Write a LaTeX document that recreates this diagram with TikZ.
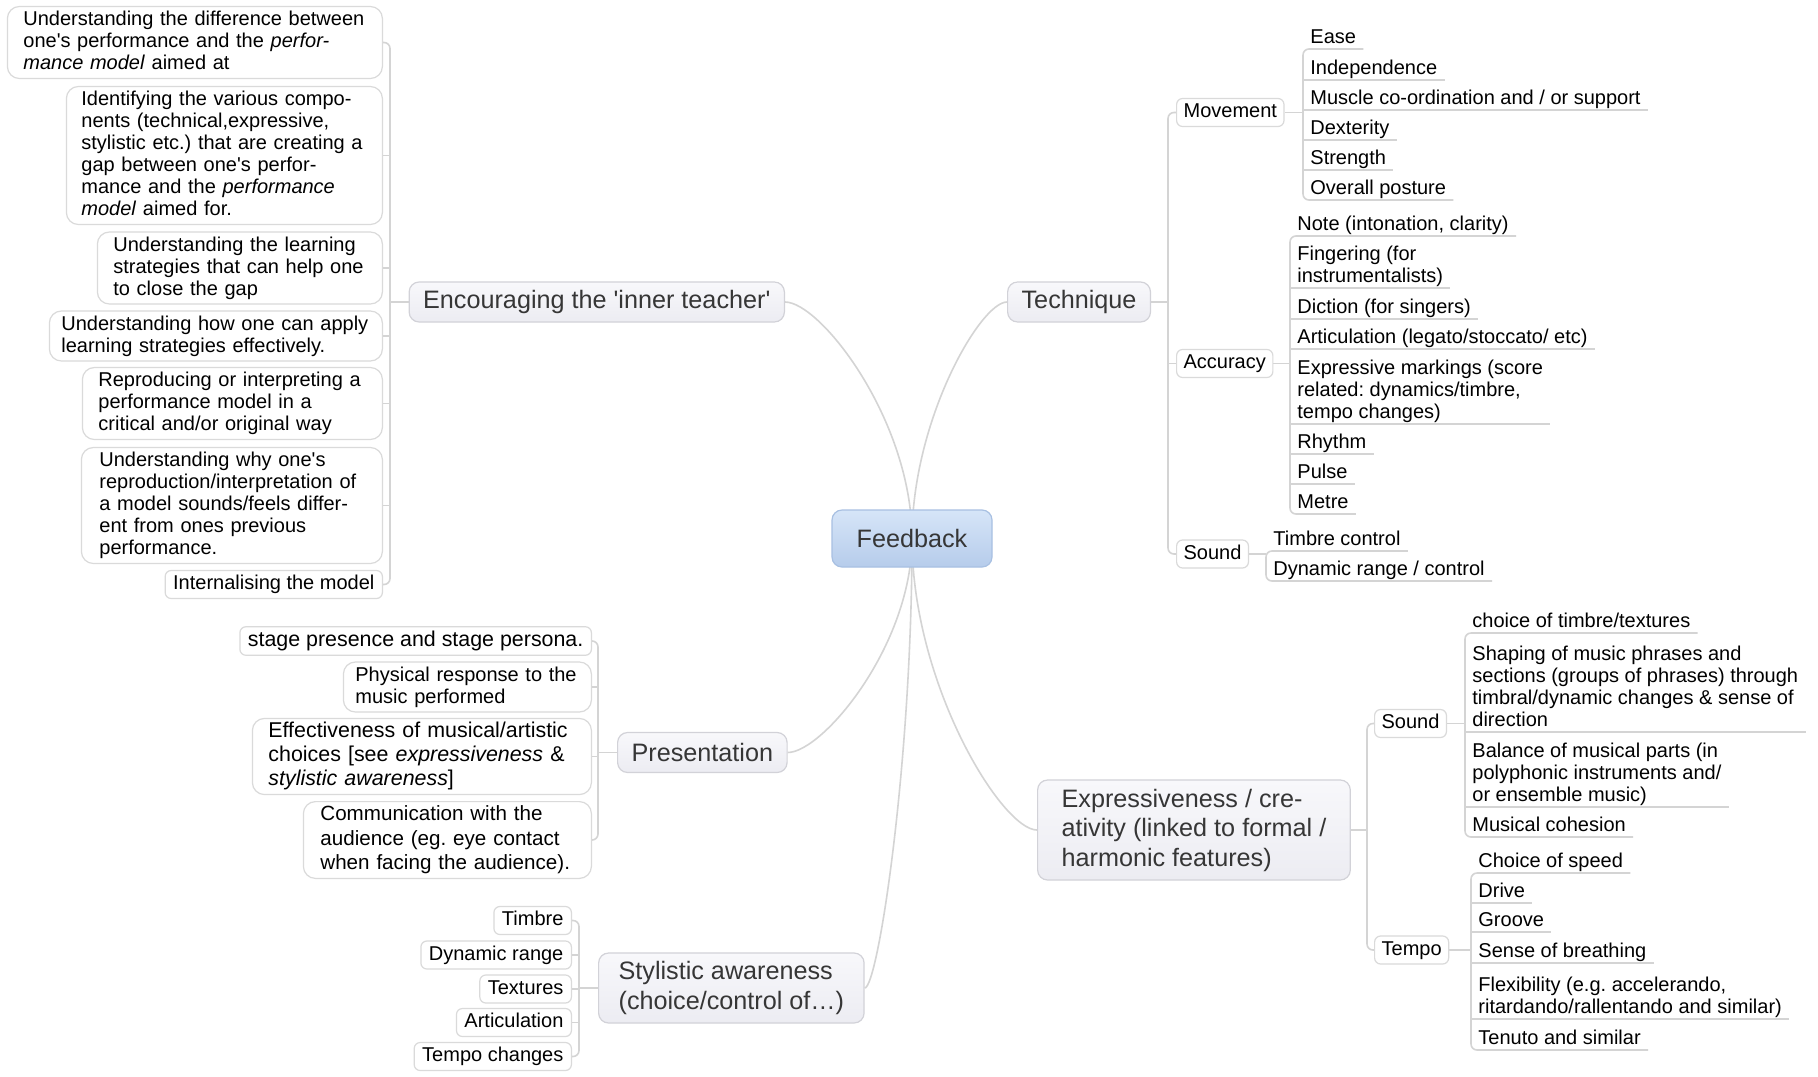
\documentclass[tikz,border=0pt]{standalone}
\usepackage{fontspec}
\setmainfont{Liberation Sans}
\usetikzlibrary{calc}
\usetikzlibrary{positioning}
\usetikzlibrary{backgrounds}
\definecolor{linkgray}{HTML}{D4D4D4}
\definecolor{boxline}{HTML}{DADADA}
\definecolor{topictop}{HTML}{F8F8FB}
\definecolor{topicbottom}{HTML}{ECECF2}
\definecolor{topicline}{HTML}{D2D2D8}
\definecolor{roottop}{HTML}{D6E5F8}
\definecolor{rootbottom}{HTML}{B6CCEB}
\definecolor{rootline}{HTML}{A8C0E2}
\definecolor{topictext}{HTML}{363636}
\tikzstyle{link} = [draw=linkgray, line width=0.8pt]
\tikzstyle{rootnode} = [draw=rootline, line width=0.6pt, rounded corners=5pt, top color=roottop, bottom color=rootbottom, text=topictext, font=\fontsize{12.6}{14.75}\selectfont, minimum width=80pt, minimum height=28.5pt]
\tikzstyle{topicnode} = [draw=topicline, line width=0.6pt, rounded corners=5pt, top color=topictop, bottom color=topicbottom, text=topictext, font=\fontsize{12.6}{14.75}\selectfont, align=left, inner xsep=7pt, minimum height=20pt]
\tikzstyle{leafnode} = [draw=boxline, line width=0.6pt, fill=white, rounded corners=6pt, font=\fontsize{10}{11}\selectfont, align=left, inner xsep=8pt, inner ysep=2pt, execute at begin node={\rule{0pt}{7.5pt}}, execute at end node={\rule[-2.5pt]{0pt}{2.5pt}}, anchor=east]
\tikzstyle{shortleaf} = [leafnode, inner xsep=4pt, rounded corners=3pt]
\tikzstyle{bigleaf} = [font=\fontsize{10.7}{11.9}\selectfont]
\tikzstyle{subnode} = [draw=boxline, line width=0.6pt, fill=white, rounded corners=3pt, font=\fontsize{10}{11}\selectfont, inner xsep=3.5pt, inner ysep=2pt, text height=7.5pt, text depth=2.5pt, anchor=west]
\tikzstyle{linenode} = [font=\fontsize{10}{11}\selectfont, align=left, inner xsep=3.5pt, inner ysep=0pt, anchor=south west, execute at end node={\rule[-2.6pt]{0pt}{2.6pt}}]

\begin{document}
\frenchspacing
\begin{tikzpicture}[x=0.5pt, y=-0.5pt]
  \useasboundingbox (0,0) rectangle (1818,1076);

  % centre and main topics
  \node[rootnode] (fb) at (912,538.5) {Feedback};
  \node[topicnode, anchor=east] (enc) at (785,302) {Encouraging the \textquotesingle inner teacher\textquotesingle};
  \node[topicnode, anchor=west] (tech) at (1007,302) {Technique};
  \node[topicnode, anchor=west] (pres) at (617,752.5) {Presentation};
  \node[topicnode, anchor=west, inner xsep=10pt, minimum height=35pt] (styl) at (598,988) {Stylistic awareness\\(choice/control of…)};
  \node[topicnode, anchor=west, inner xsep=12pt, minimum height=50pt] (expr) at (1037,830) {Expressiveness / cre-\\ativity (linked to formal /\\harmonic features)};

  % inner teacher
  \node[leafnode, text width=171.5pt] (a1) at (383,42.5) {Understanding the difference between\\one\textquotesingle s performance and the \textit{perfor-}\\\textit{mance model} aimed at};
  \node[leafnode, inner xsep=7.5pt, text width=143pt] (a2) at (383,155.5) {Identifying the various compo-\\nents (technical,expressive,\\stylistic etc.) that are creating a\\gap between one\textquotesingle s perfor-\\mance and the \textit{performance}\\\textit{model} aimed for.};
  \node[leafnode, text width=126.5pt] (a3) at (383,268) {Understanding the learning\\strategies that can help one\\to close the gap};
  \node[leafnode, inner xsep=6pt, text width=154.5pt] (a4) at (383,336) {Understanding how one can apply\\learning strategies effectively.};
  \node[leafnode, text width=134pt] (a5) at (383,403.5) {Reproducing or interpreting a\\performance model in a\\critical and/or original way};
  \node[leafnode, inner xsep=9pt, text width=132.5pt] (a6) at (383,505.5) {Understanding why one\textquotesingle s\\reproduction/interpretation of\\a model sounds/feels differ-\\ent from ones previous\\performance.};
  \node[shortleaf] (a7) at (383,584.5) {Internalising the model};

  % presentation
  \node[shortleaf, bigleaf] (p1) at (592,641) {stage presence and stage persona.};
  \node[leafnode, inner xsep=6pt, text width=112pt] (p2) at (592,687) {Physical response to the\\music performed};
  \node[leafnode, bigleaf, text width=153.5pt] (p3) at (592,756.5) {Effectiveness of musical/artistic\\choices [see \textit{expressiveness} \&\\\textit{stylistic awareness}]};
  \node[leafnode, font=\fontsize{10.3}{12.2}\selectfont, inner xsep=8.5pt, text width=127pt] (p4) at (592,840) {Communication with the\\audience (eg. eye contact\\when facing the audience).};

  % stylistic awareness
  \node[shortleaf] (s1) at (572,920.5) {Timbre};
  \node[shortleaf] (s2) at (572,955) {Dynamic range};
  \node[shortleaf] (s3) at (572,989) {Textures};
  \node[shortleaf] (s4) at (572,1022.5) {Articulation};
  \node[shortleaf] (s5) at (572,1056.5) {Tempo changes};

  % technique
  \node[subnode] (move) at (1176,112.5) {Movement};
  \node[subnode] (acc) at (1176,363.5) {Accuracy};
  \node[subnode] (tsound) at (1176,554) {Sound};
  \node[linenode] (ease) at (1303,49) {Ease};
  \node[linenode] (indep) at (1303,80) {Independence};
  \node[linenode] (muscle) at (1303,110) {Muscle co-ordination and / or support};
  \node[linenode] (dext) at (1303,140) {Dexterity};
  \node[linenode] (strength) at (1303,170) {Strength};
  \node[linenode] (posture) at (1303,200) {Overall posture};
  \node[linenode] (note) at (1290,236) {Note (intonation, clarity)};
  \node[linenode] (finger) at (1290,288) {Fingering (for\\instrumentalists)};
  \node[linenode] (diction) at (1290,319) {Diction (for singers)};
  \node[linenode] (artic) at (1290,349) {Articulation (legato/stoccato/ etc)};
  \node[linenode] (marks) at (1290,424) {Expressive markings (score\\related: dynamics/timbre,\\tempo changes)};
  \node[linenode] (rhythm) at (1290,454) {Rhythm};
  \node[linenode] (pulse) at (1290,484) {Pulse};
  \node[linenode] (metre) at (1290,514) {Metre};
  \node[linenode] (timbre) at (1266,551) {Timbre control};
  \node[linenode] (dynctl) at (1266,581) {Dynamic range / control};

  % expressiveness
  \node[subnode] (esound) at (1374,723.5) {Sound};
  \node[subnode] (tempo) at (1374,950) {Tempo};
  \node[linenode] (choice) at (1465,633) {choice of timbre/textures};
  \node[linenode] (shaping) at (1465,732) {Shaping of music phrases and\\sections (groups of phrases) through\\timbral/dynamic changes \& sense of\\direction};
  \node[linenode] (balance) at (1465,807) {Balance of musical parts (in\\polyphonic instruments and/\\or ensemble music)};
  \node[linenode] (cohesion) at (1465,837) {Musical cohesion};
  \node[linenode] (speed) at (1471,873) {Choice of speed};
  \node[linenode] (drive) at (1471,903) {Drive};
  \node[linenode] (groove) at (1471,932) {Groove};
  \node[linenode] (breath) at (1471,963) {Sense of breathing};
  \node[linenode] (flex) at (1471,1019) {Flexibility (e.g. accelerando,\\ritardando/rallentando and similar)};
  \node[linenode] (tenuto) at (1471,1050) {Tenuto and similar};

  \coordinate (encbar) at ($(a1.east)+(7,0)$);
  \coordinate (presbar) at ($(p1.east)+(6,0)$);
  \coordinate (stylbar) at ($(s1.east)+(7,0)$);
  \coordinate (techbar) at ($(move.west)+(-8,0)$);
  \coordinate (exprbar) at ($(esound.west)+(-7,0)$);

  \begin{scope}[on background layer]
    \fill[white] (0,0) rectangle (1818,1076);
    % branches from the centre
    \draw[link] (fb.center) .. controls ($(fb.center)!0.5!(fb.center |- enc.east)$) and ($(enc.east)!0.28!(enc.east -| fb.center)$) .. (enc.east);
    \draw[link] (fb.center) .. controls ($(fb.center)!0.5!(fb.center |- tech.west)$) and ($(tech.west)!0.28!(tech.west -| fb.center)$) .. (tech.west);
    \draw[link] (fb.center) .. controls ($(fb.center)!0.5!(fb.center |- pres.east)$) and ($(pres.east)!0.28!(pres.east -| fb.center)$) .. (pres.east);
    \draw[link] (fb.center) .. controls ($(fb.center)!0.5!(fb.center |- styl.east)$) and ($(styl.east)!0.28!(styl.east -| fb.center)$) .. (styl.east);
    \draw[link] (fb.center) .. controls ($(fb.center)!0.5!(fb.center |- expr.west)$) and ($(expr.west)!0.28!(expr.west -| fb.center)$) .. (expr.west);

    % left brackets
    \draw[link, rounded corners=3pt] (a1.east) -- (encbar) |- (a7.east);
    \foreach \n in {a2,a3,a4,a5,a6} \draw[link] (\n.east) -- (\n.east -| encbar);
    \draw[link] (enc.west) -- (enc.west -| encbar);
    \draw[link, rounded corners=3pt] (p1.east) -- (presbar) |- (p4.east);
    \foreach \n in {p2,p3} \draw[link] (\n.east) -- (\n.east -| presbar);
    \draw[link] (pres.west) -- (pres.west -| presbar);
    \draw[link, rounded corners=3pt] (s1.east) -- (stylbar) |- (s5.east);
    \foreach \n in {s2,s3,s4} \draw[link] (\n.east) -- (\n.east -| stylbar);
    \draw[link] (styl.west) -- (styl.west -| stylbar);

    % right brackets
    \draw[link, rounded corners=3pt] (move.west) -- (techbar) |- (tsound.west);
    \draw[link] (acc.west) -- (acc.west -| techbar);
    \draw[link] (tech.east) -- (tech.east -| techbar);
    \draw[link, rounded corners=3pt] (esound.west) -- (exprbar) |- (tempo.west);
    \draw[link] (expr.east) -- (expr.east -| exprbar);

    % underlined lists
    \draw[link, rounded corners=3pt] (ease.south east) -- (ease.south west) -- (posture.south west) -- (posture.south east);
    \foreach \n in {indep,muscle,dext,strength} \draw[link] (\n.south west) -- (\n.south east);
    \draw[link] (move.east) -- (move.east -| ease.south west);
    \draw[link, rounded corners=3pt] (note.south east) -- (note.south west) -- (metre.south west) -- (metre.south east);
    \foreach \n in {finger,diction,artic,marks,rhythm,pulse} \draw[link] (\n.south west) -- (\n.south east);
    \draw[link] (acc.east) -- (acc.east -| note.south west);
    \draw[link, rounded corners=3pt] (timbre.south east) -- (timbre.south west) -- (dynctl.south west) -- (dynctl.south east);
    \draw[link] (tsound.east) -- (tsound.east -| timbre.south west);
    \draw[link, rounded corners=3pt] (choice.south east) -- (choice.south west) -- (cohesion.south west) -- (cohesion.south east);
    \foreach \n in {shaping,balance} \draw[link] (\n.south west) -- (\n.south east);
    \draw[link] (esound.east) -- (esound.east -| choice.south west);
    \draw[link, rounded corners=3pt] (speed.south east) -- (speed.south west) -- (tenuto.south west) -- (tenuto.south east);
    \foreach \n in {drive,groove,breath,flex} \draw[link] (\n.south west) -- (\n.south east);
    \draw[link] (tempo.east) -- (tempo.east -| speed.south west);
  \end{scope}
\end{tikzpicture}
\end{document}
